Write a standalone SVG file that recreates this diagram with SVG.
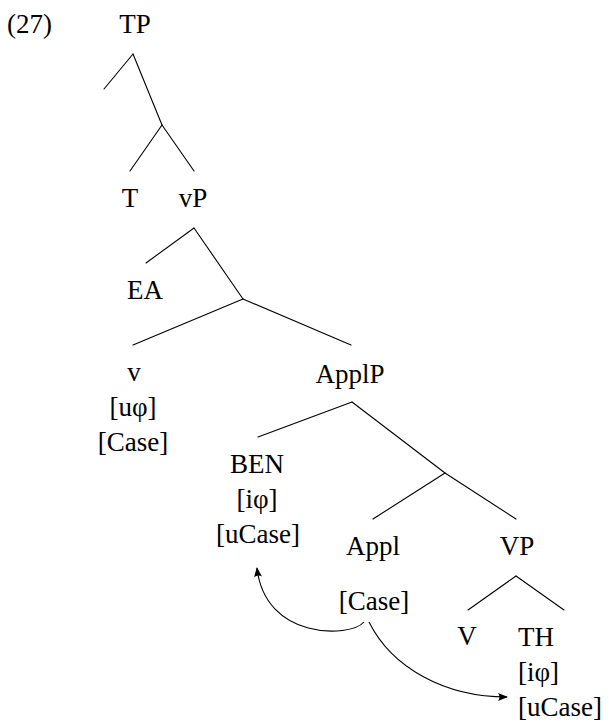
<svg xmlns="http://www.w3.org/2000/svg" width="609" height="723" viewBox="0 0 609 723">
<style>
  text { font-family: "Liberation Serif", "DejaVu Serif", serif; font-size: 27px; fill: #000; }
  .c { text-anchor: middle; }
  .l { text-anchor: start; }
  .edge { stroke: #000; stroke-width: 1.1; fill: none; stroke-linecap: round; }
  .arc { stroke: #000; stroke-width: 1.1; fill: none; marker-end: url(#head); }
</style>
<defs>
  <marker id="head" viewBox="-10 -5 12 10" refX="0" refY="0" markerWidth="12" markerHeight="10" markerUnits="userSpaceOnUse" orient="auto">
    <path d="M1,0 L-9,-4 Q-6,0 -9,4 Z" fill="#000"/>
  </marker>
</defs>
<rect width="609" height="723" fill="#fff"/>

<g id="connectors">
  <line class="edge" x1="133" y1="54" x2="104" y2="89"/>
  <line class="edge" x1="133" y1="54" x2="162" y2="125"/>
  <line class="edge" x1="162" y1="125" x2="130" y2="171"/>
  <line class="edge" x1="162" y1="125" x2="194" y2="171"/>
  <line class="edge" x1="194" y1="228" x2="146" y2="263"/>
  <line class="edge" x1="194" y1="228" x2="243" y2="299"/>
  <line class="edge" x1="243" y1="299" x2="133" y2="345"/>
  <line class="edge" x1="243" y1="299" x2="351" y2="345"/>
  <line class="edge" x1="352" y1="402" x2="258" y2="437"/>
  <line class="edge" x1="352" y1="402" x2="445" y2="473"/>
  <line class="edge" x1="445" y1="473" x2="373" y2="519"/>
  <line class="edge" x1="445" y1="473" x2="516" y2="519"/>
  <line class="edge" x1="516" y1="576" x2="468" y2="610"/>
  <line class="edge" x1="516" y1="576" x2="564" y2="610"/>
  <path class="arc" d="M364,622 C350,638 265,640 257,568"/>
  <path class="arc" d="M369,622 C392,668 445,697 507,697"/>
</g>

<g id="ex-num"><text class="l" x="7" y="33">(27)</text></g>
<g id="node-TP"><text class="c" x="135" y="33">TP</text></g>
<g id="node-T"><text class="c" x="130" y="207">T</text></g>
<g id="node-vP"><text class="c" x="193" y="207">vP</text></g>
<g id="node-EA"><text class="c" x="145" y="299">EA</text></g>
<g id="node-v">
  <text class="c" x="134" y="381">v</text>
  <text class="c" x="133" y="416">[uφ]</text>
  <text class="c" x="133" y="451">[Case]</text>
</g>
<g id="node-ApplP"><text class="c" x="350" y="383">ApplP</text></g>
<g id="node-BEN">
  <text class="c" x="257" y="473">BEN</text>
  <text class="c" x="257" y="508">[iφ]</text>
  <text class="c" x="258" y="543">[uCase]</text>
</g>
<g id="node-Appl"><text class="c" x="373" y="555">Appl</text></g>
<g id="node-Appl-feat"><text class="c" x="374" y="610">[Case]</text></g>
<g id="node-VP"><text class="c" x="517" y="555">VP</text></g>
<g id="node-V"><text class="c" x="467" y="645">V</text></g>
<g id="node-TH">
  <text class="l" x="518" y="646">TH</text>
  <text class="l" x="518" y="681">[iφ]</text>
  <text class="l" x="518" y="716">[uCase]</text>
</g>
</svg>
